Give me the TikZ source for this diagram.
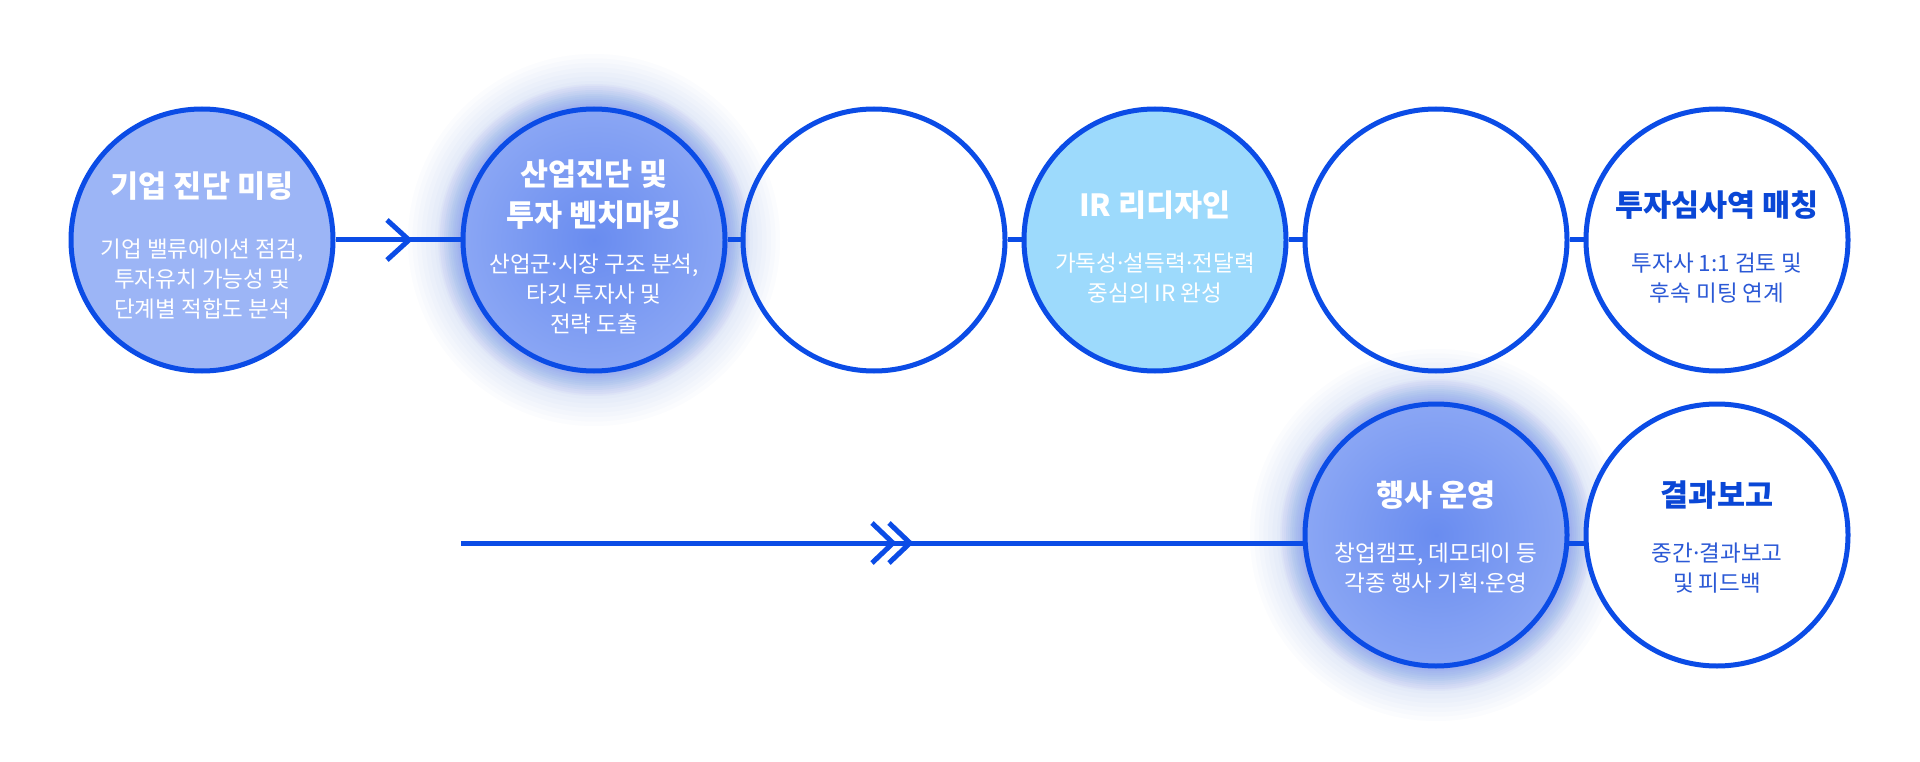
\documentclass[tikz,border=0pt]{standalone}
\usepackage{fontspec}
\usetikzlibrary{calc}
\newfontfamily\kr{Noto Sans CJK KR}
\definecolor{stroke}{HTML}{0B4CE6}
\definecolor{fillA}{HTML}{9CB5F6}
\definecolor{fillIR}{HTML}{9DDAFC}
\definecolor{innerB}{HTML}{698CF0}
\definecolor{outerB}{HTML}{8AA6F4}
\definecolor{glowc}{HTML}{4C78EE}
\definecolor{ttlblue}{HTML}{0A47D6}
\definecolor{bdyblue}{HTML}{2B59D6}
\tikzset{
  stage/.style={circle, minimum size=262pt, inner sep=0pt, draw=stroke, line width=5pt},
  conn/.style={draw=stroke, line width=5pt},
  chev/.style={draw=stroke, line width=5pt, line join=miter},
  ttl/.style={font=\kr\bfseries\fontsize{30.5}{41}\selectfont, align=center, text=white, inner sep=0pt},
  bdy/.style={font=\kr\fontsize{22.5}{30.3}\selectfont, align=center, text=white, inner sep=0pt},
  ttlb/.style={ttl, text=ttlblue},
  bdyb/.style={bdy, text=bdyblue},
}
\newcommand{\md}{\kern-.13em·\kern-.13em}
\newcommand{\glowat}[1]{%
  \foreach \k in {1,...,12}{\fill[glowc, opacity=0.04] (#1) circle ({132+2*\k});}%
  \foreach \k in {1,...,12}{\fill[glowc, opacity=0.02] (#1) circle ({132+4.5*\k});}}
\begin{document}
\begin{tikzpicture}[x=1pt, y=-1pt]
\fill[white] (0,0) rectangle (1920,762);
\useasboundingbox (0,0) rectangle (1920,762);
% centres
\coordinate (p1) at (202,240);
\coordinate (p2) at (594,240);
\coordinate (p3) at (874,240);
\coordinate (p4) at (1155,240);
\coordinate (p5) at (1436,240);
\coordinate (p6) at (1717,240);
\coordinate (p7) at (1436,535);
\coordinate (p8) at (1717,535);
% glows
\glowat{p2}
\glowat{p7}
% inner fills
\fill[fillA] (p1) circle (131);
\shade[inner color=innerB, outer color=outerB] (p2) circle (131);
\fill[fillIR] (p4) circle (131);
\shade[inner color=innerB, outer color=outerB] (p7) circle (131);
\fill[white] (p6) circle (131);
\fill[white] (p8) circle (131);
% circles
\node[stage] (c1) at (p1) {};
\node[stage] (c2) at (p2) {};
\node[stage] (c3) at (p3) {};
\node[stage] (c4) at (p4) {};
\node[stage] (c5) at (p5) {};
\node[stage] (c6) at (p6) {};
\node[stage] (c7) at (p7) {};
\node[stage] (c8) at (p8) {};
% connectors row 1
\draw[conn] (c1.east) -- (c2.west);
\coordinate (a1) at (409,240);
\draw[chev] ($(a1)+(-22,-20)$) -- (a1) -- ($(a1)+(-22,20)$);
\draw[conn] (c2.east) -- (c3.west);
\draw[conn] (c3.east) -- (c4.west);
\draw[conn] (c4.east) -- (c5.west);
\draw[conn] (c5.east) -- (c6.west);
% connectors row 2
\coordinate (s) at (461,543);
\coordinate (e7) at (1306,543);
\draw[conn] (s) -- (e7);
\coordinate (a2) at (893,543);
\coordinate (a3) at (910,543);
\draw[chev] ($(a2)+(-21,-20)$) -- (a2) -- ($(a2)+(-21,20)$);
\draw[chev] ($(a3)+(-21,-20)$) -- (a3) -- ($(a3)+(-21,20)$);
\coordinate (f7) at (1566,543);
\coordinate (f8) at (1587,543);
\draw[conn] (f7) -- (f8);
% texts
\node[ttl] (t1) at (202,186) {기업 진단 미팅};
\node[bdy] (b1) at (202,279) {기업 밸류에이션 점검,\\투자유치 가능성 및\\단계별 적합도 분석};
\node[ttl] (t2) at (594,195) {산업진단 및\\투자 벤치마킹};
\node[bdy] (b2) at (594,294) {산업군\md 시장 구조 분석,\\타깃 투자사 및\\전략 도출};
\node[ttl] (t4) at (1155,205) {IR 리디자인};
\node[bdy] (b4) at (1155,278) {가독성\md 설득력\md 전달력\\중심의 IR 완성};
\node[ttlb] (t6) at (1717,205) {투자심사역 매칭};
\node[bdyb] (b6) at (1717,278) {투자사 1:1 검토 및\\후속 미팅 연계};
\node[ttl] (t7) at (1436,495) {행사 운영};
\node[bdy] (b7) at (1436,568) {창업캠프, 데모데이 등\\각종 행사 기획\md 운영};
\node[ttlb] (t8) at (1717,495) {결과보고};
\node[bdyb] (b8) at (1717,568) {중간\md 결과보고\\및 피드백};
\end{tikzpicture}
\end{document}
